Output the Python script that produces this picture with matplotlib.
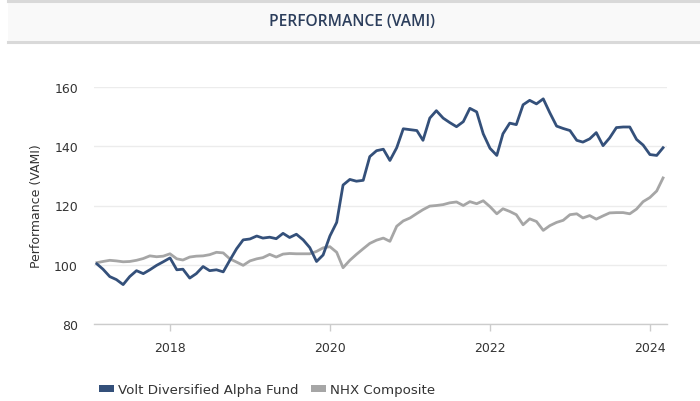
import matplotlib
matplotlib.use("Agg")
import matplotlib.pyplot as plt
import matplotlib.dates as mdates
import pandas as pd
from matplotlib.lines import Line2D
from matplotlib.patches import Rectangle

dates = pd.date_range("2017-01-31", "2024-02-29", freq="ME")

fund = [100.3, 98.5, 96.0, 95.0, 93.3, 96.0, 98.0, 97.0, 98.3, 99.8, 101.0, 102.3,
        98.3, 98.5, 95.5, 97.0, 99.4, 98.0, 98.3, 97.6, 101.5, 105.4, 108.4, 108.7,
        109.7, 109.0, 109.3, 108.8, 110.6, 109.2, 110.3, 108.4, 105.8, 101.1, 103.3, 109.7,
        114.3, 126.9, 128.8, 128.2, 128.5, 136.5, 138.5, 139.0, 135.2, 139.5, 145.9, 145.6,
        145.3, 142.0, 149.5, 152.0, 149.5, 148.0, 146.6, 148.3, 152.8, 151.6, 144.2, 139.3,
        136.9, 144.2, 147.8, 147.3, 154.0, 155.5, 154.3, 156.0, 151.3, 146.8, 146.0, 145.3,
        142.0, 141.4, 142.5, 144.6, 140.2, 142.8, 146.3, 146.5, 146.5, 142.3, 140.4, 137.2,
        136.9, 139.5]

index = [100.7, 101.1, 101.5, 101.3, 101.0, 101.1, 101.5, 102.1, 103.0, 102.7, 102.9, 103.7,
         102.0, 101.6, 102.6, 102.9, 103.0, 103.4, 104.2, 104.0, 102.0, 100.9, 99.8, 101.3,
         102.0, 102.4, 103.5, 102.6, 103.6, 103.8, 103.7, 103.7, 103.7, 104.5, 105.7, 106.1,
         104.2, 99.0, 101.5, 103.5, 105.4, 107.2, 108.3, 109.0, 107.9, 113.0, 114.8, 115.8,
         117.3, 118.6, 119.8, 120.0, 120.3, 120.9, 121.2, 120.0, 121.3, 120.6, 121.6, 119.6,
         117.2, 118.9, 118.0, 116.9, 113.5, 115.5, 114.6, 111.6, 113.2, 114.3, 115.0, 116.9,
         117.2, 115.8, 116.6, 115.4, 116.5, 117.5, 117.6, 117.6, 117.2, 118.8, 121.3, 122.7,
         124.9, 129.3]

series_names = ["Volt Diversified Alpha Fund", "NHX Composite"]
colors = ["#34507a", "#a6a6a6"]
yticks = [80, 100, 120, 140, 160]
xtick_years = [2018, 2020, 2022, 2024]

fig = plt.figure(figsize=(7.0, 4.02), dpi=100)
W, H = 700, 402

# Title band
fig.patches.append(Rectangle((8 / W, 1 - 43 / H), 1 - 8 / W, 41 / H, transform=fig.transFigure,
                             facecolor="#f9f9f9", edgecolor="none", zorder=0))
for yy in (2, 43):
    fig.lines.append(Line2D([8 / W, 1.0], [1 - yy / H, 1 - yy / H], transform=fig.transFigure,
                            color="#d9d9d9", lw=2.2))
fig.text(352 / W, 1 - 22 / H, "PERFORMANCE (VAMI)", ha="center", va="center",
         fontsize=11.2, fontweight="semibold", family="Open Sans", color="#2c3e5c")

ax = fig.add_axes([94 / W, 1 - 325 / H, (667 - 94) / W, (325 - 88) / H])
ax.plot(dates, index, color=colors[1], lw=2.0, solid_joinstyle="round", zorder=3)
ax.plot(dates, fund, color=colors[0], lw=2.0, solid_joinstyle="round", zorder=4)

ax.set_ylim(80, 160)
ax.set_yticks(yticks)
ax.set_xlim(pd.Timestamp("2017-01-18"), pd.Timestamp("2024-03-18"))
ax.set_xticks([pd.Timestamp(f"{y}-01-01") for y in xtick_years])
ax.xaxis.set_major_formatter(mdates.DateFormatter("%Y"))

for s in ["top", "right", "left"]:
    ax.spines[s].set_visible(False)
ax.spines["bottom"].set_color("#cccccc")
ax.spines["bottom"].set_linewidth(1.0)
ax.grid(axis="y", color="#ececec", lw=1.0)
ax.set_axisbelow(True)
ax.tick_params(axis="y", length=0, pad=11.5, labelsize=9, labelcolor="#333333")
ax.tick_params(axis="x", length=5, width=1, color="#cccccc", pad=7, labelsize=9,
               labelcolor="#333333")
ax.set_ylabel("Performance (VAMI)", fontsize=9, color="#333333", labelpad=8)

handles = [Rectangle((0, 0), 1, 1, facecolor=c, edgecolor="none") for c in colors]
leg = fig.legend(handles, series_names, loc="center", bbox_to_anchor=(267 / W, 1 - 391 / H),
                 ncol=2, frameon=False, handlelength=1.15, handleheight=0.45,
                 handletextpad=0.3, columnspacing=0.9,
                 prop={"family": "DejaVu Sans", "size": 9.6})
for t in leg.get_texts():
    t.set_color("#333333")

fig.savefig("out.png", dpi=100)
